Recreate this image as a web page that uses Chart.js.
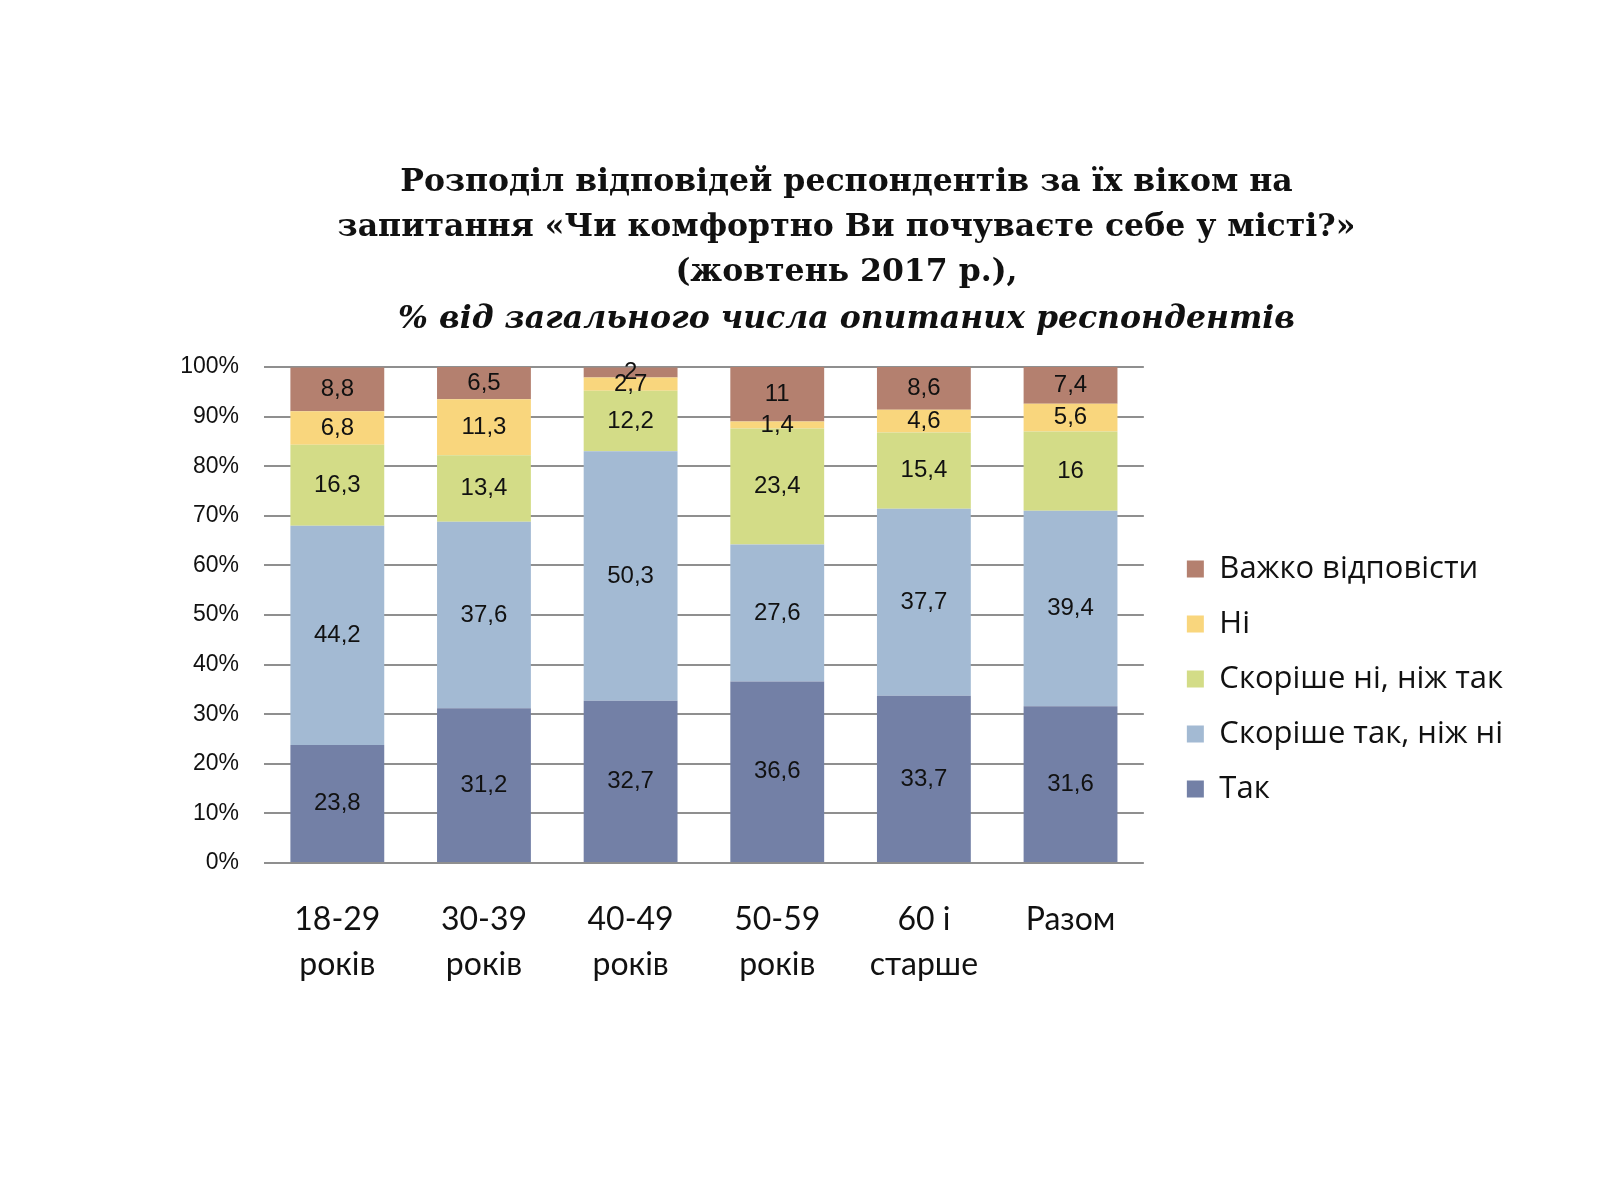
<!DOCTYPE html>
<html>
<head>
<meta charset="utf-8">
<script src="https://cdn.jsdelivr.net/npm/chart.js@4.4.1/dist/chart.umd.min.js"></script>
<style>
  html, body { margin: 0; padding: 0; background: #ffffff; }
  canvas { display: block; }
</style>
</head>
<body>
<canvas id="chart" width="1608" height="1186"></canvas>
<script>
// categories (age groups), two-line labels
const categories = [
  ["18-29", "років"],
  ["30-39", "років"],
  ["40-49", "років"],
  ["50-59", "років"],
  ["60 і", "старше"],
  ["Разом", ""],
];

// series values, % of respondents
const tak = [23.8, 31.2, 32.7, 36.6, 33.7, 31.6];
const skorisheTak = [44.2, 37.6, 50.3, 27.6, 37.7, 39.4];
const skorisheNi = [16.3, 13.4, 12.2, 23.4, 15.4, 16];
const ni = [6.8, 11.3, 2.7, 1.4, 4.6, 5.6];
const vazhko = [8.8, 6.5, 2, 11, 8.6, 7.4];

const yTicks = [0, 10, 20, 30, 40, 50, 60, 70, 80, 90, 100];

const BAR_FONT = "'Liberation Sans', Arial, sans-serif";
const LABEL_FONT = "Lato, 'Open Sans', sans-serif";
const LEGEND_FONT = "'Open Sans', Lato, sans-serif";
const TITLE_FONT = "'DejaVu Serif', 'Liberation Serif', serif";

// draws value in the middle of every segment
const segmentLabels = {
  id: "segmentLabels",
  afterDatasetsDraw(chart) {
    const ctx = chart.ctx;
    ctx.save();
    ctx.font = "24px " + BAR_FONT;
    ctx.fillStyle = "#111111";
    ctx.textAlign = "center";
    ctx.textBaseline = "middle";
    chart.data.datasets.forEach((ds, i) => {
      const meta = chart.getDatasetMeta(i);
      meta.data.forEach((bar, j) => {
        const p = bar.getCenterPoint();
        ctx.fillText(String(ds.data[j]).replace(".", ","), p.x, p.y);
      });
    });
    ctx.restore();
  },
};

const canvas = document.getElementById("chart");

new Chart(canvas, {
  type: "bar",
  data: {
    labels: categories,
    datasets: [
      { label: "Так", data: tak, backgroundColor: "#7380a6" },
      { label: "Скоріше так, ніж ні", data: skorisheTak, backgroundColor: "#a3bad3" },
      { label: "Скоріше ні, ніж так", data: skorisheNi, backgroundColor: "#d3dc87" },
      { label: "Ні", data: ni, backgroundColor: "#f9d67d" },
      { label: "Важко відповісти", data: vazhko, backgroundColor: "#b4806f" },
    ],
  },
  options: {
    responsive: false,
    animation: false,
    layout: { padding: { top: 160, left: 180, right: 95, bottom: 173 } },
    datasets: { bar: { barPercentage: 0.64, categoryPercentage: 1.0 } },
    scales: {
      x: {
        stacked: true,
        grid: { display: false },
        border: { display: false },
        ticks: {
          color: "#111111",
          font: { family: LABEL_FONT, size: 32, lineHeight: "45px" },
          padding: 26,
          maxRotation: 0,
        },
      },
      y: {
        stacked: true,
        min: 0,
        max: 100,
        border: { display: false },
        grid: { color: "#8f8f8f", lineWidth: 2, drawTicks: false },
        afterBuildTicks(axis) {
          axis.ticks = yTicks.map((v) => ({ value: v }));
        },
        afterFit(axis) {
          axis.width = 84;
        },
        ticks: {
          color: "#111111",
          font: { family: BAR_FONT, size: 23 },
          padding: 25,
          callback: (v) => v + "%",
        },
      },
      // empty axis on the right, only makes the gap before the legend
      gap: {
        position: "right",
        grid: { display: false },
        border: { display: false },
        ticks: { display: false },
        afterFit(axis) {
          axis.width = 19;
        },
      },
    },
    plugins: {
      title: {
        display: true,
        text: [
          "Розподіл відповідей респондентів за їх віком на",
          "запитання «Чи комфортно Ви почуваєте себе у місті?»",
          "(жовтень 2017 р.),",
        ],
        color: "#111111",
        font: { family: TITLE_FONT, size: 31.5, weight: "bold", lineHeight: "45px" },
        padding: { top: 0, bottom: 2 },
      },
      subtitle: {
        display: true,
        text: "% від загального числа опитаних респондентів",
        color: "#111111",
        font: { family: TITLE_FONT, size: 31.5, weight: "bold", style: "italic", lineHeight: "45px" },
        padding: { top: 0, bottom: 25 },
      },
      legend: {
        position: "right",
        reverse: true,
        maxWidth: 420,
        title: { display: true, text: " ", font: { size: 10 }, padding: { top: 0, bottom: 173 } },
        labels: {
          color: "#111111",
          font: { family: LEGEND_FONT, size: 31 },
          boxWidth: 17,
          boxHeight: 17,
          padding: 24,
        },
      },
      tooltip: { enabled: false },
    },
  },
  plugins: [segmentLabels],
});
</script>
</body>
</html>
